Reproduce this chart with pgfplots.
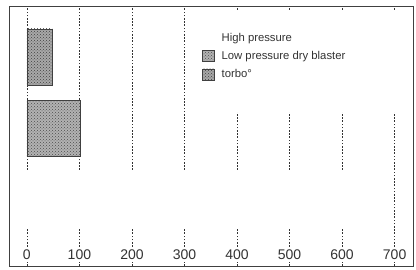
\documentclass[border=0pt]{standalone}
\usepackage{pgfplots}
\pgfplotsset{compat=1.18}
\usetikzlibrary{patterns}
\usepackage{fontspec}
\setmainfont{Liberation Sans}
\definecolor{paper}{RGB}{255,255,255}
\begin{document}
\begin{tikzpicture}
\begin{axis}[
  set layers,
  scale only axis, width=404pt, height=260pt,
  xbar, bar width=56pt, bar shift=0pt,
  xmin=-34, xmax=735, ymin=-0.923, ymax=2.713,
  axis line style={black!75, line width=0.8pt},
  xtick={0,100,...,700}, ytick=\empty,
  major tick length=0pt,
  xmajorgrids,
  major grid style={black!80, line width=0.7pt, dash pattern=on 1.6pt off 1.6pt},
  /pgf/number format/assume math mode=true,
  xticklabel style={anchor=south, yshift=4pt, fill=white, inner sep=2.5pt, font=\fontsize{14}{16}\selectfont, text=black!80},
  legend style={draw=none, fill=white, at={(0.46,0.985)}, anchor=north west,
    font=\fontsize{11.3}{13}\selectfont, text=black!80, row sep=4.5pt, inner xsep=7pt, inner ysep=21pt,
    /tikz/every odd column/.append style={column sep=5pt}},
  legend cell align=left,
  legend image code/.code={\fill[#1] (0pt,-5.5pt) rectangle (12pt,5.5pt);},
]
\addplot[fill=paper, draw=none] coordinates {(650,0)};
\addlegendentry{High pressure}
\addplot[fill=black!30, draw=black!75, line width=0.6pt, postaction={pattern=crosshatch dots, pattern color=black!70}] coordinates {(102,1)};
\addlegendentry{\makebox[172pt][l]{Low pressure dry blaster}}
\addplot[fill=black!34, draw=black!75, line width=0.6pt, postaction={pattern=crosshatch dots, pattern color=black!75}] coordinates {(48,2)};
\addlegendentry{torbo°}
\addlegendimage{empty legend}
\addlegendentry{}
\end{axis}
\path ([shift={(-9pt,-4pt)}]current axis.south west) rectangle ([shift={(3pt,6pt)}]current axis.north east);
\end{tikzpicture}
\end{document}
